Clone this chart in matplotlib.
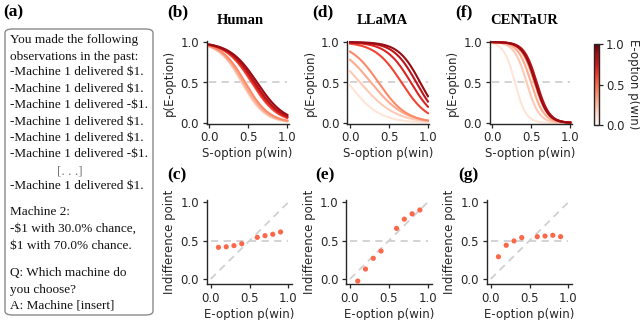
import numpy as np
import matplotlib
matplotlib.use("Agg")
import matplotlib.pyplot as plt
from matplotlib.patches import FancyBboxPatch
from matplotlib.colors import Normalize
from matplotlib.cm import ScalarMappable

# ---------------- data ----------------
e_pwin = [0.1, 0.2, 0.3, 0.4, 0.6, 0.7, 0.8, 0.9]
models = ["Human", "LLaMA", "CENTaUR"]

# indifference points (S-option p(win) where p(E-option)=0.5)
indiff_human = [0.413, 0.420, 0.435, 0.460, 0.543, 0.565, 0.583, 0.613]
indiff_llama = [-0.027, 0.130, 0.270, 0.365, 0.660, 0.780, 0.850, 0.900]
indiff_centaur = [0.290, 0.440, 0.496, 0.540, 0.552, 0.560, 0.570, 0.552]

# logistic slopes of the fitted choice curves
slope_human = [6.8, 6.7, 6.6, 6.5, 6.0, 5.9, 5.8, 5.66]
slope_llama = [5.0, 4.4, 4.7, 5.5, 5.85, 6.3, 6.8, 7.1]
slope_centaur = [14.0, 12.5, 12.0, 12.0, 12.0, 12.2, 12.4, 12.4]

ticks = [0.0, 0.5, 1.0]
tick_labels = ["0.0", "0.5", "1.0"]

prompt_lines = [
    "You made the following",
    "observations in the past:",
    "-Machine 1 delivered $1.",
    "-Machine 1 delivered $1.",
    "-Machine 1 delivered -$1.",
    "-Machine 1 delivered $1.",
    "-Machine 1 delivered $1.",
    "-Machine 1 delivered -$1.",
    "[. . .]",
    "-Machine 1 delivered $1.",
    "Machine 2:",
    "-$1 with 30.0% chance,",
    "$1 with 70.0% chance.",
    "Q: Which machine do",
    "you choose?",
    "A: Machine [insert]",
]
prompt_y = [40, 56.7, 72.5, 89, 105.3, 121.7, 138, 154.3, 171.5, 185.5,
            212, 229, 246.5, 273.3, 290, 305.5]

indiffs = [indiff_human, indiff_llama, indiff_centaur]
slopes = [slope_human, slope_llama, slope_centaur]

# ---------------- style ----------------
W, H = 640, 320
TXT = "#262626"
plt.rcParams["font.family"] = ["DejaVu Sans"]
plt.rcParams["axes.edgecolor"] = TXT
plt.rcParams["xtick.color"] = TXT
plt.rcParams["ytick.color"] = TXT
SERIF = "Liberation Serif"
cmap = plt.get_cmap("Reds")
norm = Normalize(0, 1)
dot_color = cmap(0.5)
grid_color = "#d0d0d0"


def px(l, t, w, h):
    return [l / W, 1 - (t + h) / H, w / W, h / H]


def style(ax):
    for s in ["top", "right"]:
        ax.spines[s].set_visible(False)
    for s in ["left", "bottom"]:
        ax.spines[s].set_linewidth(1.0)
    ax.set_xticks(ticks)
    ax.set_xticklabels(tick_labels)
    ax.set_yticks(ticks)
    ax.set_yticklabels(tick_labels)
    ax.tick_params(length=3, width=0.9, pad=2.5, labelsize=8.5)


fig = plt.figure(figsize=(W / 100, H / 100), dpi=100)

top_left = [206.6, 347.3, 489.6]
bot_left = [206.8, 346.1, 486.8]
letters_top = ["(b)", "(d)", "(f)"]
letters_bot = ["(c)", "(e)", "(g)"]
letter_x_top = [167, 312, 455]
letter_x_bot = [167, 315, 458]
title_cx = [240, 382, 524]

xs = np.linspace(0, 1, 200)
for i, name in enumerate(models):
    # ---- top: choice curves ----
    ax = fig.add_axes(px(top_left[i], 41.2, 81.9, 82.6))
    ax.plot([0, 1], [0.5, 0.5], ls=(0, (4, 3)), color=grid_color, lw=1.3, zorder=1)
    for e, m, k in zip(e_pwin, indiffs[i], slopes[i]):
        ax.plot(xs, 1.0 / (1.0 + np.exp(k * (xs - m))), color=cmap(norm(e)),
                lw=1.5, zorder=2)
    ax.set_xlim(-0.035, 1.015)
    ax.set_ylim(-0.01, 1.01)
    style(ax)
    ax.set_xlabel("S-option p(win)", fontsize=8.5, labelpad=2, color=TXT)
    ax.set_ylabel("p(E-option)", fontsize=8.5, labelpad=3, color=TXT)
    fig.text(title_cx[i] / W, 1 - 20 / H, name, family=SERIF, weight="bold",
             fontsize=10.5, ha="center", va="center")
    fig.text(letter_x_top[i] / W, 1 - 12 / H, letters_top[i], family=SERIF,
             weight="bold", fontsize=12.5, ha="left", va="center")

    # ---- bottom: indifference points ----
    bx = fig.add_axes(px(bot_left[i], 200, 85.4, 84.4))
    bx.plot([0, 1], [0.5, 0.5], ls=(0, (4, 3)), color=grid_color, lw=1.3, zorder=1)
    bx.plot([0, 1], [0, 1], ls=(0, (4, 3)), color=grid_color, lw=1.3, zorder=1)
    bx.scatter(e_pwin, indiffs[i], s=14, color=dot_color, edgecolors="none", zorder=3)
    bx.set_xlim(-0.05, 1.05)
    bx.set_ylim(-0.07, 1.03)
    style(bx)
    bx.set_xlabel("E-option p(win)", fontsize=8.5, labelpad=2, color=TXT)
    bx.set_ylabel("Indifference point", fontsize=8.5, labelpad=3, color=TXT)
    fig.text(letter_x_bot[i] / W, 1 - 175 / H, letters_bot[i], family=SERIF,
             weight="bold", fontsize=12.5, ha="left", va="center")

# ---- colorbar ----
cax = fig.add_axes(px(594, 44, 4.5, 81))
cb = fig.colorbar(ScalarMappable(norm=norm, cmap=cmap), cax=cax, ticks=ticks)
cb.ax.set_yticklabels(tick_labels)
cb.ax.tick_params(length=3, width=0.9, pad=2.5, labelsize=8.5)
cb.outline.set_linewidth(1.0)
cb.set_label("E-option p(win)", rotation=270, fontsize=8.5, labelpad=11, color=TXT)

# ---- prompt panel (a) ----
fig.text(3 / W, 1 - 12 / H, "(a)", family=SERIF, weight="bold", fontsize=12.5,
         ha="left", va="center")
box = FancyBboxPatch((5 / W, 1 - 315 / H), 148 / W, 286 / H,
                     boxstyle="round,pad=0,rounding_size=0.012",
                     transform=fig.transFigure, facecolor="white",
                     edgecolor="#8a8a8a", lw=1.0)
fig.patches.append(box)
for txt, y in zip(prompt_lines, prompt_y):
    if txt.startswith("["):
        fig.text(70 / W, 1 - y / H, txt, family=SERIF, fontsize=9.5, ha="center",
                 va="center", color="#777777")
    else:
        fig.text(10 / W, 1 - y / H, txt, family=SERIF, fontsize=9.5, ha="left",
                 va="center", color="#111111")

fig.savefig("out.png", dpi=100)
